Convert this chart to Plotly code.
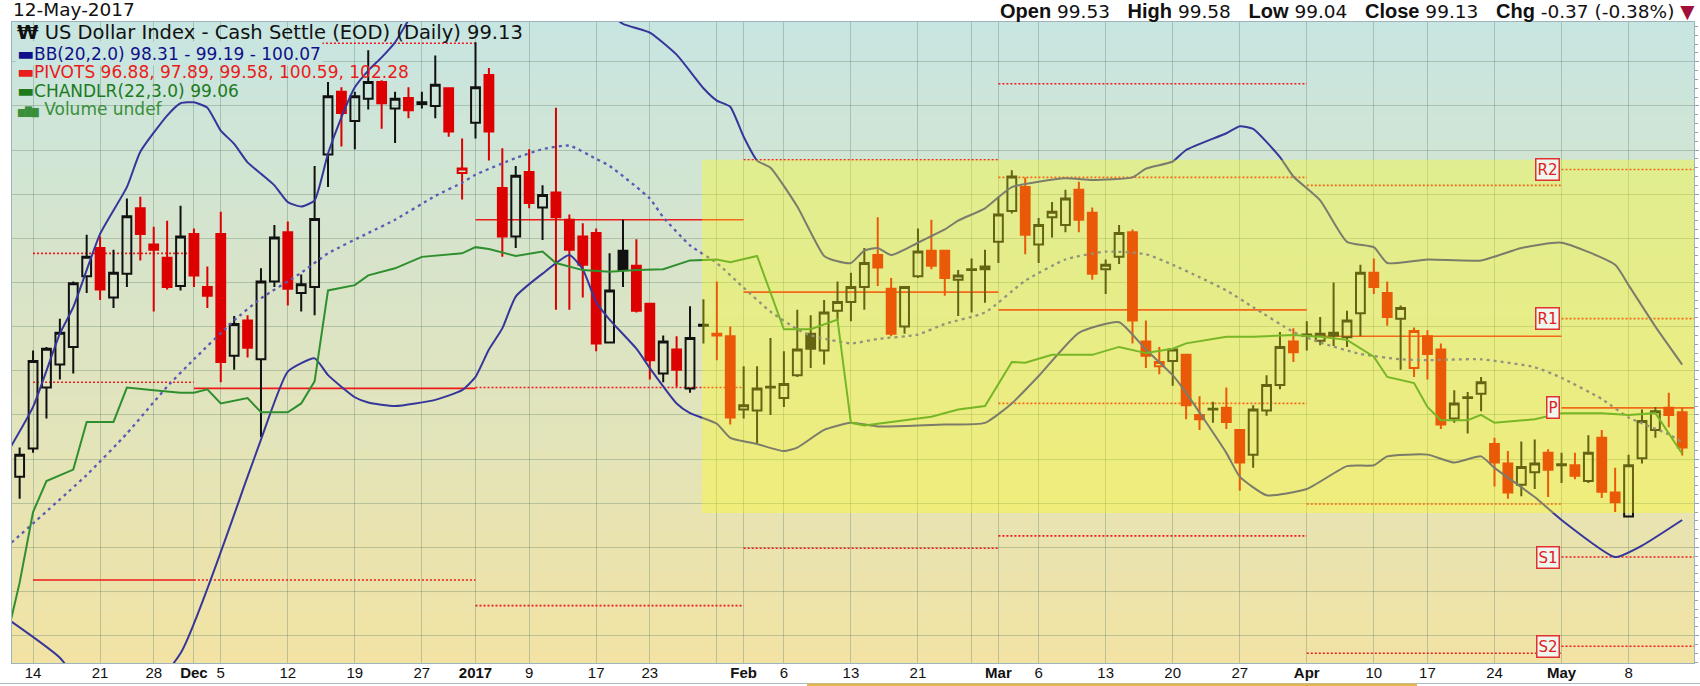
import plotly.graph_objects as go
import pandas as pd

# ------------------------------------------------------------------ data
holidays = ["2016-11-24", "2016-12-26", "2017-01-02", "2017-01-16", "2017-02-20", "2017-04-14"]
trading_days = [d.strftime("%Y-%m-%d") for d in pd.bdate_range("2016-11-10", "2017-05-12")
                if d.strftime("%Y-%m-%d") not in holidays]
candle_dates = trading_days[1:]

opens = [
    98.80, 99.12, 99.81, 100.07, 100.27, 101.07, 101.39, 100.83, 101.10, 101.84,
    101.43, 101.28, 100.96, 101.55, 100.95, 101.55, 100.17, 100.57, 100.13, 101.01,
    101.57, 100.88, 100.95, 102.45, 103.16, 102.83, 103.08, 103.27, 102.97, 103.09,
    103.02, 103.00, 103.20, 102.24, 102.81, 103.35, 102.07, 101.52, 102.25, 101.85,
    102.02, 101.71, 101.52, 101.56, 100.32, 101.36, 101.19, 100.76, 99.97, 100.24,
    99.80, 100.51, 100.40, 100.39, 99.56, 99.55, 99.81, 99.69, 99.95, 100.42,
    100.23, 100.68, 100.78, 100.95, 101.31, 100.93, 100.50, 101.07, 101.36, 101.36,
    101.03, 101.14, 101.15, 101.46, 101.81, 102.08, 101.43, 101.74, 101.65, 102.05,
    101.79, 101.15, 101.29, 101.57, 100.33, 100.05, 100.11, 100.18, 99.50, 99.56,
    99.58, 99.33, 99.05, 99.55, 99.84, 100.33, 100.40, 100.34, 100.40, 100.38,
    100.65, 101.11, 100.88, 100.59, 100.03, 100.39, 100.24, 99.46, 99.69, 99.74,
    99.17, 98.95, 98.71, 98.85, 99.07, 98.93, 98.93, 98.75, 99.24, 98.62,
    98.35, 99.01, 99.33, 99.58, 99.53]
highs = [
    99.13, 100.23, 100.27, 100.59, 101.01, 101.54, 101.52, 101.37, 101.95, 101.97,
    101.63, 101.70, 101.87, 101.61, 101.18, 101.80, 100.62, 100.63, 101.16, 101.65,
    101.69, 101.09, 102.32, 103.27, 103.21, 103.16, 103.63, 103.29, 103.16, 103.21,
    103.16, 103.57, 103.21, 102.63, 103.72, 103.43, 102.52, 102.32, 102.51, 102.10,
    102.98, 101.77, 101.67, 101.61, 101.33, 101.71, 101.49, 100.76, 100.40, 100.39,
    100.73, 100.81, 101.01, 100.50, 100.05, 100.05, 100.37, 100.22, 100.69, 100.63,
    100.80, 101.01, 101.11, 101.39, 101.74, 101.05, 100.95, 101.61, 101.71, 101.36,
    101.14, 101.27, 101.37, 101.97, 102.27, 102.19, 101.73, 101.91, 102.05, 102.14,
    101.85, 101.26, 101.65, 101.60, 100.57, 100.27, 100.25, 100.18, 99.71, 99.65,
    99.81, 99.33, 99.61, 99.95, 100.44, 100.48, 100.56, 100.61, 101.00, 100.68,
    101.20, 101.27, 101.01, 100.74, 100.49, 100.46, 100.31, 99.78, 99.76, 99.93,
    99.24, 99.09, 99.20, 99.22, 99.11, 99.07, 99.07, 99.27, 99.33, 98.90,
    99.05, 99.56, 99.59, 99.75, 99.58]
lows = [
    98.55, 99.07, 99.46, 99.90, 99.97, 100.88, 100.80, 100.71, 100.95, 101.25,
    100.67, 100.92, 100.91, 100.95, 100.71, 99.87, 100.01, 100.15, 99.25, 100.95,
    100.74, 100.67, 100.63, 102.08, 102.54, 102.51, 102.96, 102.74, 102.58, 102.86,
    102.97, 102.86, 102.65, 101.94, 102.63, 102.38, 101.29, 101.39, 101.84, 101.48,
    100.69, 100.69, 100.83, 100.22, 100.31, 100.95, 100.66, 99.90, 99.87, 99.82,
    99.75, 100.31, 100.12, 99.39, 99.46, 99.18, 99.50, 99.59, 99.93, 100.03,
    100.07, 100.57, 100.56, 100.69, 100.96, 100.39, 100.42, 101.05, 101.15, 100.85,
    100.62, 100.66, 100.77, 101.22, 101.78, 101.32, 101.22, 101.51, 101.57, 101.57,
    101.03, 100.87, 101.21, 100.31, 100.03, 99.96, 99.83, 99.45, 99.33, 99.41,
    99.34, 98.64, 98.90, 99.49, 99.79, 100.10, 100.23, 100.29, 100.28, 100.27,
    100.39, 100.87, 100.51, 100.01, 99.93, 99.90, 99.34, 99.41, 99.29, 99.54,
    98.69, 98.55, 98.58, 98.66, 98.57, 98.73, 98.77, 98.73, 98.56, 98.40,
    98.35, 98.95, 99.24, 99.36, 99.04]
closes = [
    99.05, 100.11, 100.25, 100.43, 100.99, 101.29, 100.92, 101.11, 101.75, 101.55,
    101.37, 100.95, 101.52, 101.08, 100.85, 100.10, 100.53, 100.26, 101.01, 101.51,
    100.93, 100.98, 101.72, 103.11, 102.92, 103.11, 103.27, 103.03, 103.08, 102.95,
    103.04, 103.24, 102.71, 102.29, 103.21, 102.71, 101.52, 102.21, 101.90, 101.99,
    101.74, 101.37, 101.20, 100.31, 100.91, 101.14, 100.68, 100.12, 100.33, 100.01,
    100.37, 100.52, 100.42, 99.47, 99.61, 99.80, 99.82, 99.85, 100.24, 100.25,
    100.66, 100.78, 100.95, 101.22, 101.17, 100.42, 100.95, 101.35, 101.19, 101.05,
    101.08, 101.15, 101.18, 101.77, 102.20, 101.54, 101.65, 101.80, 101.95, 101.71,
    101.10, 101.20, 101.56, 100.57, 100.17, 100.10, 100.24, 99.61, 99.45, 99.57,
    99.42, 98.96, 99.56, 99.84, 100.27, 100.21, 100.41, 100.42, 100.43, 100.57,
    101.11, 100.95, 100.61, 100.71, 100.45, 100.19, 99.39, 99.63, 99.70, 99.87,
    98.96, 98.62, 98.91, 98.95, 98.88, 98.94, 98.81, 99.07, 98.63, 98.51,
    98.93, 99.43, 99.54, 99.50, 99.13]

bb_upper_dates = [
    "2016-11-10", "2016-11-14", "2016-11-16", "2016-11-17", "2016-11-21", "2016-11-23", "2016-11-25",
    "2016-11-29", "2016-11-30", "2016-12-01", "2016-12-02", "2016-12-05", "2016-12-06", "2016-12-07",
    "2016-12-08", "2016-12-09", "2016-12-12", "2016-12-13", "2016-12-14", "2016-12-15", "2016-12-16",
    "2016-12-19", "2016-12-20", "2016-12-21", "2016-12-22", "2016-12-27", "2017-01-03", "2017-01-10",
    "2017-01-17", "2017-01-19", "2017-01-23", "2017-01-25", "2017-01-27", "2017-01-30", "2017-01-31",
    "2017-02-01", "2017-02-02", "2017-02-03", "2017-02-07", "2017-02-09", "2017-02-10", "2017-02-13",
    "2017-02-14", "2017-02-15", "2017-02-16", "2017-02-21", "2017-02-23", "2017-02-24", "2017-02-28",
    "2017-03-02", "2017-03-08", "2017-03-10", "2017-03-15", "2017-03-16", "2017-03-20", "2017-03-21",
    "2017-03-24", "2017-03-27", "2017-03-28", "2017-03-30", "2017-03-31", "2017-04-04", "2017-04-06",
    "2017-04-10", "2017-04-11", "2017-04-17", "2017-04-21", "2017-04-26", "2017-05-01", "2017-05-05",
    "2017-05-08", "2017-05-10", "2017-05-12"]
bb_upper = [
    99.05, 99.59, 100.42, 100.72, 101.55, 102.08, 102.48,
    102.89, 103.03, 103.04, 102.98, 102.72, 102.57, 102.36,
    102.23, 102.10, 101.91, 101.86, 101.93, 102.46, 102.87,
    103.21, 103.40, 103.55, 103.72, 104.20, 104.60, 104.60,
    104.15, 103.93, 103.83, 103.58, 103.20, 103.06, 102.99,
    102.65, 102.38, 102.30, 101.86, 101.30, 101.24, 101.22,
    101.36, 101.39, 101.31, 101.45, 101.60, 101.70, 101.84,
    102.08, 102.18, 102.16, 102.19, 102.29, 102.37, 102.50,
    102.69, 102.77, 102.74, 102.42, 102.20, 101.93, 101.46,
    101.40, 101.22, 101.26, 101.25, 101.39, 101.45, 101.20,
    100.97, 100.50, 100.07]

bb_mid_dates = [
    "2016-11-10", "2016-11-18", "2016-11-23", "2016-11-29", "2016-12-01", "2016-12-06", "2016-12-08",
    "2016-12-13", "2016-12-15", "2016-12-20", "2016-12-22", "2016-12-28", "2016-12-30", "2017-01-03",
    "2017-01-06", "2017-01-10", "2017-01-12", "2017-01-17", "2017-01-18", "2017-01-23", "2017-01-24",
    "2017-01-26", "2017-01-30", "2017-02-01", "2017-02-03", "2017-02-07", "2017-02-08", "2017-02-13",
    "2017-02-15", "2017-02-21", "2017-02-23", "2017-02-28", "2017-03-03", "2017-03-08", "2017-03-13",
    "2017-03-16", "2017-03-20", "2017-03-22", "2017-03-24", "2017-03-28", "2017-03-31", "2017-04-04",
    "2017-04-07", "2017-04-12", "2017-04-17", "2017-04-21", "2017-04-27", "2017-05-01", "2017-05-04",
    "2017-05-08", "2017-05-11", "2017-05-12"]
bb_mid = [
    98.00, 98.82, 99.29, 99.82, 100.13, 100.57, 100.82,
    101.11, 101.33, 101.56, 101.71, 101.98, 102.13, 102.22,
    102.41, 102.51, 102.55, 102.40, 102.32, 101.95, 101.74,
    101.42, 101.22, 100.94, 100.67, 100.47, 100.40, 100.31,
    100.36, 100.41, 100.53, 100.66, 101.02, 101.26, 101.35,
    101.32, 101.20, 101.06, 100.91, 100.72, 100.44, 100.32,
    100.19, 100.13, 100.12, 100.13, 100.04, 99.92, 99.68,
    99.47, 99.28, 99.19]

bb_lower_dates = [
    "2016-11-10", "2016-11-16", "2016-11-22", "2016-11-30", "2016-12-07", "2016-12-08", "2016-12-12",
    "2016-12-14", "2016-12-15", "2016-12-19", "2016-12-20", "2016-12-22", "2016-12-28", "2016-12-30",
    "2017-01-03", "2017-01-04", "2017-01-05", "2017-01-06", "2017-01-10", "2017-01-12", "2017-01-13",
    "2017-01-17", "2017-01-18", "2017-01-20", "2017-01-23", "2017-01-25", "2017-01-26", "2017-01-30",
    "2017-01-31", "2017-02-02", "2017-02-06", "2017-02-07", "2017-02-09", "2017-02-13", "2017-02-15",
    "2017-02-21", "2017-02-23", "2017-02-28", "2017-03-02", "2017-03-06", "2017-03-09", "2017-03-14",
    "2017-03-16", "2017-03-20", "2017-03-21", "2017-03-24", "2017-03-27", "2017-03-29", "2017-04-03",
    "2017-04-06", "2017-04-10", "2017-04-11", "2017-04-17", "2017-04-19", "2017-04-21", "2017-04-24",
    "2017-04-27", "2017-05-01", "2017-05-05", "2017-05-09", "2017-05-12"]
bb_lower = [
    97.20, 96.75, 96.00, 96.80, 98.80, 99.22, 99.99,
    100.14, 99.95, 99.70, 99.64, 99.60, 99.67, 99.78,
    99.93, 100.24, 100.48, 100.84, 101.10, 101.31, 101.15,
    100.78, 100.58, 100.25, 100.03, 99.63, 99.52, 99.40,
    99.24, 99.17, 99.09, 99.13, 99.33, 99.41, 99.37,
    99.38, 99.39, 99.41, 99.63, 99.94, 100.43, 100.55,
    100.24, 99.95, 99.75, 99.07, 98.80, 98.59, 98.66,
    98.92, 98.93, 99.03, 99.05, 98.96, 99.03, 98.90,
    98.57, 98.31, 97.89, 98.02, 98.31]

chandelier_dates = [
    "2016-11-10", "2016-11-11", "2016-11-14", "2016-11-15", "2016-11-17", "2016-11-18", "2016-11-22",
    "2016-11-23", "2016-11-28", "2016-11-30", "2016-12-01", "2016-12-02", "2016-12-05", "2016-12-07",
    "2016-12-08", "2016-12-12", "2016-12-13", "2016-12-14", "2016-12-15", "2016-12-19", "2016-12-20",
    "2016-12-22", "2016-12-27", "2016-12-30", "2017-01-03", "2017-01-04", "2017-01-06", "2017-01-10",
    "2017-01-11", "2017-01-13", "2017-01-18", "2017-01-20", "2017-01-24", "2017-01-26", "2017-01-30",
    "2017-01-31", "2017-02-02", "2017-02-06", "2017-02-08", "2017-02-10", "2017-02-13", "2017-02-14",
    "2017-02-16", "2017-02-22", "2017-02-24", "2017-02-28", "2017-03-02", "2017-03-03", "2017-03-07",
    "2017-03-10", "2017-03-14", "2017-03-16", "2017-03-20", "2017-03-21", "2017-03-24", "2017-03-28",
    "2017-03-31", "2017-04-04", "2017-04-06", "2017-04-10", "2017-04-11", "2017-04-13", "2017-04-17",
    "2017-04-18", "2017-04-20", "2017-04-21", "2017-04-24", "2017-04-27", "2017-05-01", "2017-05-04",
    "2017-05-08", "2017-05-10", "2017-05-12"]
chandelier = [
    96.95, 97.60, 98.40, 98.75, 98.88, 99.42, 99.42,
    99.81, 99.78, 99.75, 99.75, 99.79, 99.63, 99.69,
    99.53, 99.53, 99.63, 99.88, 100.91, 100.97, 101.08,
    101.16, 101.29, 101.33, 101.40, 101.38, 101.30, 101.35,
    101.22, 101.14, 101.12, 101.14, 101.15, 101.25, 101.26,
    101.23, 101.30, 100.47, 100.47, 100.58, 99.41, 99.38,
    99.42, 99.48, 99.56, 99.60, 100.10, 100.09, 100.18,
    100.18, 100.27, 100.20, 100.25, 100.31, 100.385, 100.385,
    100.405, 100.385, 100.35, 100.16, 99.93, 99.86, 99.59,
    99.44, 99.44, 99.50, 99.41, 99.45, 99.52, 99.52,
    99.50, 99.52, 99.06]

# monthly pivot levels (None = off the visible scale)
pivot_start = ["2016-11-14", "2016-12-01", "2017-01-03", "2017-02-01", "2017-03-01", "2017-04-03", "2017-05-01"]
pivot_end = ["2016-12-01", "2017-01-03", "2017-02-01", "2017-03-01", "2017-04-03", "2017-05-01", None]
pivot_R2 = [101.33, None, None, None, 103.25, None, 102.28]
pivot_R1 = [99.87, 103.71, None, 102.39, 102.19, 102.10, 100.59]
pivot_P = [97.63, 99.80, 101.71, 100.89, 100.69, 100.39, 99.58]
pivot_S1 = [None, 97.63, 99.81, 97.99, 99.63, 98.49, 97.89]
pivot_S2 = [None, None, 97.34, None, 98.13, 96.80, 96.88]

highlight_start = "2017-01-27"
highlight_low, highlight_high = 98.39, 102.39

tick_dates = ["2016-11-14", "2016-11-21", "2016-11-28", "2016-12-01", "2016-12-05", "2016-12-12",
              "2016-12-19", "2016-12-27", "2017-01-03", "2017-01-09", "2017-01-17", "2017-01-23",
              "2017-01-30", "2017-02-01", "2017-02-06", "2017-02-13", "2017-02-21", "2017-02-27",
              "2017-03-01", "2017-03-06", "2017-03-13", "2017-03-20", "2017-03-27", "2017-04-03",
              "2017-04-10", "2017-04-17", "2017-04-24", "2017-05-01", "2017-05-08"]
tick_labels = ["14", "21", "28", "<b>Dec</b>", "5", "12", "19", "27", "<b>2017</b>", "9", "17", "23",
               "", "<b>Feb</b>", "6", "13", "21", "", "<b>Mar</b>", "6", "13", "20", "27", "<b>Apr</b>",
               "10", "17", "24", "<b>May</b>", "8"]

# ------------------------------------------------------------------ geometry / style
W, H = 1700, 686
ML, MR, MT, MB = 12, 6, 22, 23
x_range = [0.43, 125.88]
y_range = [96.69, 103.95]
BG_TOP = (199, 229, 226)
BG_BOT = (242, 227, 163)
GRID = "rgba(95,125,105,0.35)"
FRAME = "#9fb3bd"
RED = "#dd0000"
BLACK = "#111111"


def px(x):
    return (x - ML) / (W - ML - MR)


def py(y):
    return (H - MB - y) / (H - MT - MB)


def bg_at(t):
    c = [round(a + (b - a) * t) for a, b in zip(BG_TOP, BG_BOT)]
    return "rgb(%d,%d,%d)" % tuple(c)


fig = go.Figure()

# indicator lines
fig.add_trace(go.Scatter(x=bb_upper_dates, y=bb_upper, mode="lines",
                         line=dict(color="#36369a", width=2, shape="spline", smoothing=0.5),
                         hoverinfo="skip"))
fig.add_trace(go.Scatter(x=bb_lower_dates, y=bb_lower, mode="lines",
                         line=dict(color="#36369a", width=2, shape="spline", smoothing=0.5),
                         hoverinfo="skip"))
fig.add_trace(go.Scatter(x=bb_mid_dates, y=bb_mid, mode="lines",
                         line=dict(color="#5a5ab4", width=2.3, dash="3px,4px", shape="spline", smoothing=0.5),
                         hoverinfo="skip"))
fig.add_trace(go.Scatter(x=chandelier_dates, y=chandelier, mode="lines",
                         line=dict(color="#2f8f2f", width=2), hoverinfo="skip"))

# candles: black when close >= previous close, red otherwise
prev_close = [None] + closes[:-1]
is_black = [p is None or c >= p for c, p in zip(closes, prev_close)]


def subset(flag):
    sel = [i for i, b in enumerate(is_black) if b == flag]
    return ([candle_dates[i] for i in sel], [opens[i] for i in sel], [highs[i] for i in sel],
            [lows[i] for i in sel], [closes[i] for i in sel])


for flag, col in ((True, BLACK), (False, RED)):
    xd, o, h, lo, c = subset(flag)
    fig.add_trace(go.Candlestick(
        x=xd, open=o, high=h, low=lo, close=c, whiskerwidth=0,
        increasing=dict(line=dict(color=col, width=2), fillcolor="rgba(0,0,0,0)"),
        decreasing=dict(line=dict(color=col, width=2), fillcolor=col),
        hoverinfo="skip"))

shapes = []
# background gradient
NB = 48
for i in range(NB):
    shapes.append(dict(type="rect", xref="paper", yref="paper", x0=0, x1=1,
                       y0=1 - i / NB, y1=1 - (i + 1) / NB, layer="below",
                       fillcolor=bg_at((i + 0.5) / NB), line=dict(width=0)))

# pivot lines
for k in range(len(pivot_start)):
    x0 = trading_days.index(pivot_start[k])
    x1 = trading_days.index(pivot_end[k]) if pivot_end[k] else x_range[1]
    for lvl, solid in ((pivot_R2[k], False), (pivot_R1[k], False), (pivot_P[k], True),
                       (pivot_S1[k], False), (pivot_S2[k], False)):
        if lvl is None:
            continue
        shapes.append(dict(type="line", xref="x", yref="y", x0=x0, x1=x1, y0=lvl, y1=lvl,
                           layer="between",
                           line=dict(color="#ee1a1a", width=1.6,
                                     dash="solid" if solid else "2px,2px")))

# yellow highlighted zone
shapes.append(dict(type="rect", xref="x", yref="y",
                   x0=trading_days.index(highlight_start) - 0.1, x1=x_range[1],
                   y0=highlight_low, y1=highlight_high, layer="above",
                   fillcolor="rgba(255,255,20,0.35)", line=dict(width=0)))

# bottom strip
shapes.append(dict(type="line", xref="paper", yref="paper", x0=px(0), x1=px(W), y0=py(683.5), y1=py(683.5),
                   line=dict(color="#a9bccb", width=1)))
shapes.append(dict(type="line", xref="paper", yref="paper", x0=px(807), x1=px(1417), y0=py(685), y1=py(685),
                   line=dict(color="#e4b54e", width=3)))

annotations = []
# header
HDR_VAL = "DejaVu Sans, Verdana"
annotations.append(dict(xref="paper", yref="paper", x=px(11), y=py(10), xanchor="left", yanchor="middle",
                        text="12-May-2017", showarrow=False,
                        font=dict(family=HDR_VAL, size=18.5, color="#111")))


def lab(s):
    return f"<span style='font-family:Liberation Sans;font-size:20px'><b>{s}</b></span>"


sp = "\u00a0\u00a0\u00a0"
chg_text = "-0.37 (-0.38%)"
hdr = (f"{lab('Open')} {opens[-1]:.2f}{sp}{lab('High')} {highs[-1]:.2f}{sp}{lab('Low')} {lows[-1]:.2f}{sp}"
       f"{lab('Close')} {closes[-1]:.2f}{sp}{lab('Chg')} {chg_text} <span style='color:#a0103a'>▼</span>")
annotations.append(dict(xref="paper", yref="paper", x=px(1697), y=py(11), xanchor="right", yanchor="middle",
                        text=hdr, showarrow=False,
                        font=dict(family=HDR_VAL, size=18.5, color="#111")))

# in-chart legend
LEG_FONT = "DejaVu Sans, Verdana"
annotations.append(dict(xref="paper", yref="paper", x=px(15), y=py(33), xanchor="left", yanchor="middle",
                        text=f"<b>₩</b> US Dollar Index - Cash Settle (EOD) (Daily) {closes[-1]:.2f}",
                        showarrow=False, font=dict(family=LEG_FONT, size=19.5, color="#111")))
SW = "<span style='font-size:18px'>▬</span>"
legend_rows = [
    (f"{SW}BB(20,2.0) {bb_lower[-1]:.2f} - {bb_mid[-1]:.2f} - {bb_upper[-1]:.2f}", "#10108a", 52.5, True),
    (f"{SW}PIVOTS " + ", ".join(f"{v:.2f}" for v in
                                (pivot_S2[-1], pivot_S1[-1], pivot_P[-1], pivot_R1[-1], pivot_R2[-1])),
     "#e81c1c", 71.5, False),
    (f"{SW}CHANDLR(22,3.0) {chandelier[-1]:.2f}", "#1d7a1d", 90.5, False),
    ("<span style='font-size:9px'>▆█▇</span> Volume undef", "#3a8f3a", 109, False),
]
for txt, col, yy, bg in legend_rows:
    a = dict(xref="paper", yref="paper", x=px(15), y=py(yy), xanchor="left", yanchor="middle",
             text=txt, showarrow=False, font=dict(family=LEG_FONT, size=17, color=col), borderpad=1)
    if bg:
        a["bgcolor"] = bg_at((yy - MT) / (H - MT - MB))
        a["y"] = py(40.5)
        a["yanchor"] = "top"
    annotations.append(a)

# pivot labels for the current month
k_last = len(pivot_start) - 1
for name, lvl in (("R2", pivot_R2[k_last]), ("R1", pivot_R1[k_last]), ("P", pivot_P[k_last]),
                  ("S1", pivot_S1[k_last]), ("S2", pivot_S2[k_last])):
    annotations.append(dict(xref="x", yref="y", x=trading_days.index(pivot_start[k_last]), y=lvl,
                            xanchor="right", yanchor="middle", xshift=-2, text=name, showarrow=False,
                            font=dict(family="DejaVu Sans", size=15, color="#e02020"),
                            bgcolor="#eef6ee", bordercolor="#e03030", borderwidth=1.5, borderpad=1))

fig.update_layout(
    width=W, height=H, margin=dict(l=ML, r=MR, t=MT, b=MB, pad=0, autoexpand=False),
    paper_bgcolor="white", plot_bgcolor="#dfe4c8", showlegend=False, boxgap=0.06,
    shapes=shapes, annotations=annotations,
    xaxis=dict(type="category", categoryorder="array", categoryarray=trading_days, range=x_range,
               tickmode="array", tickvals=tick_dates, ticktext=tick_labels, ticks="",
               showgrid=True, gridcolor=GRID, gridwidth=1, showline=True, mirror=True,
               linecolor=FRAME, linewidth=1, zeroline=False, rangeslider=dict(visible=False),
               automargin=False, ticklabelstandoff=-4,
               tickfont=dict(family="Liberation Sans, Arial", size=15, color="#111")),
    xaxis2=dict(overlaying="x", anchor="y", side="bottom", type="linear", range=x_range,
                tickmode="array", tickvals=list(range(len(trading_days))), ticks="outside", ticklen=3,
                tickcolor="#8fa3b3", showticklabels=False, showgrid=False, zeroline=False, showline=False,
                automargin=False),
    yaxis=dict(range=y_range, side="right", tick0=0, dtick=0.5, showgrid=True, gridcolor=GRID,
               gridwidth=1, showticklabels=False, ticks="outside", ticklen=4, tickcolor="#8fa3b3",
               minor=dict(dtick=0.1, ticks="outside", ticklen=3, tickcolor="#8fa3b3", showgrid=False),
               showline=True, mirror=True, linecolor=FRAME, linewidth=1, zeroline=False, automargin=False),
)

fig.write_html("out.html", config={"displayModeBar": False, "staticPlot": True},
               post_script="document.body.style.margin='0px';document.body.style.overflow='hidden';")
